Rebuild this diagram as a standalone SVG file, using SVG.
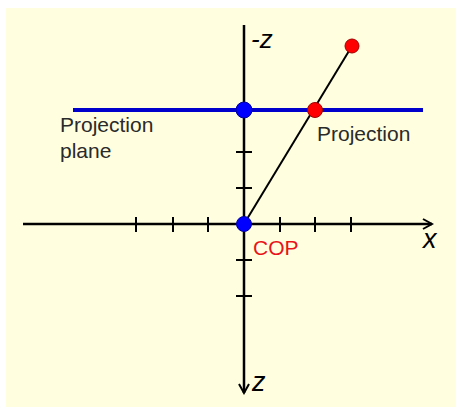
<svg xmlns="http://www.w3.org/2000/svg" width="456" height="407" viewBox="0 0 456 407">
<defs>
<style>
.axis{stroke:#000;stroke-width:2.5;fill:none}
.tick{stroke:#000;stroke-width:2}
.lbl{font-family:"Liberation Sans",Arial,sans-serif;font-size:21px;fill:#2a2a2a}
.ax{font-family:"Liberation Sans",Arial,sans-serif;font-size:27px;fill:#000;font-style:italic}
.red{fill:#ff0000;stroke:#a00000;stroke-width:1}
.blue{fill:#0000ff;stroke:#0000a0;stroke-width:1}
</style>
<marker id="arr" viewBox="0 0 12 12" refX="10" refY="6" markerWidth="12" markerHeight="12" markerUnits="userSpaceOnUse" orient="auto">
<path d="M1,1 L10,6 L1,11" fill="none" stroke="#000" stroke-width="2"/>
</marker>
</defs>
<rect x="6" y="8" width="450" height="399" fill="#ffffe0"/>
<g id="connectors">
<line id="x-axis" class="axis" x1="23" y1="224" x2="432" y2="224" marker-end="url(#arr)"/>
<line id="z-axis" class="axis" x1="244" y1="25" x2="244" y2="393" marker-end="url(#arr)"/>
<g id="ticks">
<line class="tick" x1="136" y1="217" x2="136" y2="232"/>
<line class="tick" x1="173" y1="217" x2="173" y2="232"/>
<line class="tick" x1="208" y1="217" x2="208" y2="232"/>
<line class="tick" x1="280" y1="217" x2="280" y2="232"/>
<line class="tick" x1="315" y1="217" x2="315" y2="232"/>
<line class="tick" x1="351" y1="217" x2="351" y2="232"/>
<line class="tick" x1="236" y1="152" x2="252" y2="152"/>
<line class="tick" x1="236" y1="188" x2="252" y2="188"/>
<line class="tick" x1="236" y1="260" x2="252" y2="260"/>
<line class="tick" x1="236" y1="296" x2="252" y2="296"/>
</g>
<line id="plane" x1="73" y1="110" x2="423" y2="110" stroke="#0000cc" stroke-width="4"/>
<line id="ray" x1="244" y1="224" x2="352" y2="46" stroke="#000" stroke-width="2"/>
</g>
<g id="point"><circle class="red" cx="352" cy="46" r="7"/></g>
<g id="projection"><circle class="red" cx="315" cy="110" r="7.5"/><text class="lbl" x="317" y="141">Projection</text></g>
<g id="plane-origin"><circle class="blue" cx="244" cy="110" r="8"/></g>
<g id="cop"><circle class="blue" cx="244" cy="224" r="7.5"/><text class="lbl" x="253" y="255" style="fill:#e8141a">COP</text></g>
<g id="plane-label"><text class="lbl" x="60" y="132">Projection</text><text class="lbl" x="60" y="158">plane</text></g>
<text class="ax" x="251" y="48" style="font-size:26px">-z</text>
<text class="ax" x="423" y="248">x</text>
<text class="ax" x="252" y="391">z</text>
</svg>
